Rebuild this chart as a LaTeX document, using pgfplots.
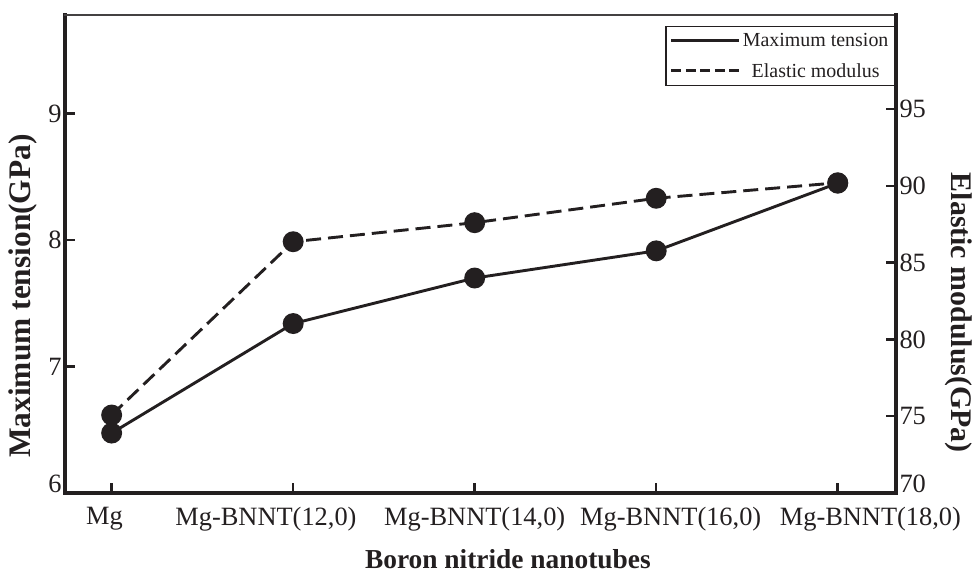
\documentclass[border=0pt]{standalone}
\usepackage{fontspec}
\setmainfont{Liberation Serif}
\usepackage{pgfplots}
\pgfplotsset{compat=1.18}
\definecolor{ink}{RGB}{35,31,32}
\begin{document}
\begin{tikzpicture}
\useasboundingbox (-65bp,-83bp) rectangle (912bp,493bp);
\begin{axis}[
  at={(0,0)}, anchor=south west,
  scale only axis, width=831bp, height=478bp,
  xmin=-0.257, xmax=4.321, ymin=6, ymax=9.78,
  axis x line*=bottom, axis y line*=left,
  separate axis lines,
  x axis line style={-, line width=4bp, ink, line cap=rect},
  y axis line style={-, line width=4bp, ink, line cap=rect},
  tick align=inside, major tick length=10bp,
  tick style={line width=2.5bp, ink},
  xtick={0,1,2,3,4},
  xticklabels={,,,,},
  extra x ticks={-0.04,0.85,2.0,3.08,4.18},
  extra x tick labels={Mg,{Mg-BNNT(12,0)},{Mg-BNNT(14,0)},{Mg-BNNT(16,0)},{Mg-BNNT(18,0)}},
  extra x tick style={major tick length=0pt, tick style={draw=none}},
  ytick={6,7,8,9},
  yticklabels={\raisebox{9bp}[\height][\depth]{6},7,8,9},
  xticklabel style={font=\fontsize{26.5}{26.5}\selectfont, yshift=-11bp, text=ink},
  yticklabel style={font=\fontsize{26.5}{26.5}\selectfont, text=ink},
  xlabel={Boron nitride nanotubes},
  xlabel style={font=\bfseries\fontsize{27.5}{27.5}\selectfont, at={(axis description cs:0.533,-0.138)}, anchor=center, text=ink},
  ylabel={Maximum tension(GPa)},
  ylabel style={font=\bfseries\fontsize{31.5}{31.5}\selectfont, at={(axis description cs:-0.0505,0.412)}, anchor=center, text=ink},
  legend style={at={(axis description cs:0.9988,0.977)}, anchor=north east,
    draw=ink, line width=1.2bp, font=\fontsize{20}{20}\selectfont, text=ink,
    inner xsep=4bp, inner ysep=5bp, row sep=11bp},
  legend cell align=center,
  legend image code/.code={\draw[#1] (0bp,0bp) -- (68bp,0bp);},
]
\addplot[ink, line width=2.9bp, mark=*, mark size=9bp, mark options={solid}] coordinates {
 (0,6.474) (1,7.34) (2,7.70) (3,7.915) (4,8.45)};
\addlegendentry{Maximum tension}
\addlegendimage{ink, line width=2.9bp, dash pattern=on 10bp off 4.5bp}
\addlegendentry{Elastic modulus}
\end{axis}
\begin{axis}[
  at={(0,0)}, anchor=south west,
  scale only axis, width=831bp, height=478bp,
  xmin=-0.257, xmax=4.321, ymin=70, ymax=101.14,
  axis x line*=top, axis y line*=right,
  separate axis lines,
  x axis line style={-, line width=1.6bp, ink!85, line cap=rect},
  y axis line style={-, line width=4bp, ink, line cap=rect},
  tick align=inside, major tick length=10bp,
  tick style={line width=2.5bp, ink},
  xtick=\empty,
  ytick={70,75,80,85,90,95},
  yticklabels={\raisebox{9bp}[\height][\depth]{70},75,80,85,90,95},
  yticklabel style={font=\fontsize{26.5}{26.5}\selectfont, text=ink},
  ylabel={Elastic modulus(GPa)},
  ylabel style={font=\bfseries\fontsize{30}{30}\selectfont, at={(axis description cs:1.075,0.377)}, anchor=center, rotate=180, text=ink},
]
\addplot[ink, line width=2.9bp, dash pattern=on 15bp off 7bp, mark=*, mark size=9bp, mark options={solid}] coordinates {
 (0,75.08) (1,86.37) (2,87.61) (3,89.2) (4,90.21)};
\end{axis}
\end{tikzpicture}
\end{document}
